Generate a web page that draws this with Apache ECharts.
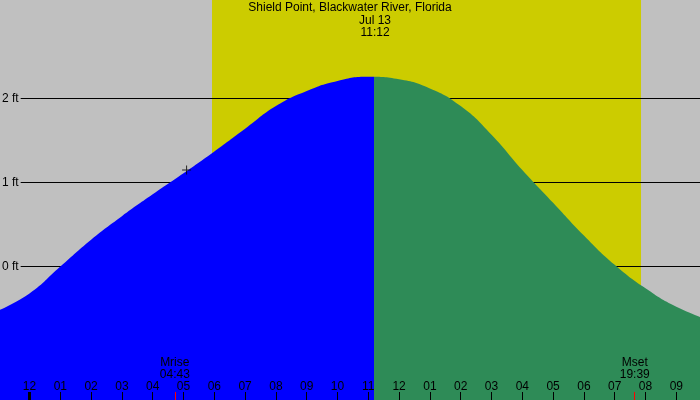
<!DOCTYPE html>
<html>
<head>
<meta charset="utf-8">
<script src="https://cdn.jsdelivr.net/npm/echarts@6/dist/echarts.min.js"></script>
<style>
  html, body { margin: 0; padding: 0; background: #c0c0c0; }
  #tide { width: 700px; height: 400px; }
</style>
</head>
<body>
<div id="tide"></div>
<script>
// 潮汐数据 (小时, 英尺)
var stationName = 'Shield Point, Blackwater River, Florida';
var dateText = 'Jul 13';
var timeText = '11:12';
var nowHour = 11.2;

var hours = [-1, 0, 1, 2, 3, 4, 5, 6, 7, 8, 9, 10, 11, 12, 13, 14, 15, 16, 17, 18, 19, 20, 21, 22];
var heights = [-0.52, -0.32, 0.00, 0.32, 0.60, 0.86, 1.11, 1.37, 1.64, 1.91, 2.09, 2.21, 2.26, 2.23,
               2.12, 1.91, 1.57, 1.15, 0.76, 0.37, 0.02, -0.26, -0.48, -0.63];

var hourTicks = [-1, 0, 1, 2, 3, 4, 5, 6, 7, 8, 9, 10, 11, 12, 13, 14, 15, 16, 17, 18, 19, 20, 21];
var tickLabels = ['11', '12', '01', '02', '03', '04', '05', '06', '07', '08', '09', '10',
                  '11', '12', '01', '02', '03', '04', '05', '06', '07', '08', '09'];
var ftTicks = [0, 1, 2];
var midnight = [0];

var sunRise = 5.925, sunSet = 19.854;
var moonHours = [4.717, 19.65];
var moonLabels = ['Mrise\n04:43', 'Mset\n19:39'];
var plusMark = [[5.1, 1.15]];

var xMin = -0.958, xMax = 21.769;
var yMin = -1.589, yMax = 3.173;

var font = 'Liberation Sans';
var myChart = echarts.init(document.getElementById('tide'));

var baseX = {
    type: 'value',
    position: 'bottom',
    offset: 0,
    min: xMin,
    max: xMax,
    z: 5,
    axisLine: { show: false, onZero: false },
    splitLine: { show: false }
};

option = {
    backgroundColor: '#c0c0c0',
    animation: false,
    title: {
        text: stationName,
        left: 'center',
        top: 2,
        padding: 0,
        textStyle: { fontFamily: font, fontSize: 12, fontWeight: 'normal', color: '#000', lineHeight: 12 }
    },
    graphic: [{
        type: 'text',
        x: 375,
        y: 15,
        z: 10,
        style: {
            text: dateText + '\n' + timeText,
            textAlign: 'center',
            fontFamily: font, fontSize: 12, lineHeight: 12, fill: '#000'
        }
    }],
    grid: { left: 0, right: 0, top: 0, bottom: 0, containLabel: false, outerBoundsMode: 'none' },
    visualMap: {
        show: false,
        type: 'piecewise',
        seriesIndex: 1,
        dimension: 0,
        pieces: [
            { gte: -5, lt: nowHour, color: '#0000ff' },
            { gte: nowHour, lte: 30, color: '#2e8b57' }
        ]
    },
    xAxis: [
        echarts.util.merge({
            axisTick: { customValues: hourTicks, inside: true, length: 8, lineStyle: { color: '#000', width: 1 } },
            axisLabel: {
                customValues: hourTicks, inside: true, margin: 7,
                fontFamily: font, fontSize: 12, color: '#000',
                formatter: function (v) {
                    var i = hourTicks.indexOf(Math.round(v));
                    return i < 0 ? '' : tickLabels[i];
                }
            }
        }, baseX, true),
        echarts.util.merge({
            axisTick: { customValues: midnight, inside: true, length: 8, lineStyle: { color: '#000', width: 3 } },
            axisLabel: { show: false }
        }, baseX, true),
        echarts.util.merge({
            axisTick: { customValues: moonHours, inside: true, length: 8, lineStyle: { color: '#ff0000', width: 1 } },
            axisLabel: {
                customValues: moonHours, inside: true, margin: 19,
                fontFamily: font, fontSize: 12, lineHeight: 12, color: '#000',
                formatter: function (v) {
                    var i = moonHours.indexOf(v);
                    return i < 0 ? '' : moonLabels[i];
                }
            }
        }, baseX, true)
    ],
    yAxis: {
        type: 'value',
        min: yMin,
        max: yMax,
        z: 2,
        axisLine: { show: false },
        axisTick: { show: false, customValues: ftTicks },
        axisLabel: {
            customValues: ftTicks,
            inside: true,
            margin: 0,
            fontFamily: font, fontSize: 12, color: '#000',
            backgroundColor: '#c0c0c0',
            padding: [0, 2, 0, 2],
            formatter: function (v) { return v + ' ft'; }
        },
        splitLine: { show: true, lineStyle: { color: '#000', width: 1 } }
    },
    series: [
        {
            // 白天(黄色)
            type: 'line',
            z: 1,
            data: [],
            markArea: {
                silent: true,
                z: 1,
                itemStyle: { color: '#cccc00', opacity: 1 },
                data: [[{ xAxis: sunRise, yAxis: yMin }, { xAxis: sunSet, yAxis: yMax }]]
            }
        },
        {
            name: 'tide',
            type: 'line',
            z: 3,
            smooth: 0.5,
            symbol: 'none',
            lineStyle: { width: 0 },
            areaStyle: { opacity: 1, origin: 'start' },
            data: hours.map(function (h, i) { return [h, heights[i]]; })
        },
        {
            type: 'scatter',
            z: 4,
            symbol: 'path://M4,0h1v4h4v1h-4v4h-1v-4h-4v-1h4z',
            symbolSize: 9,
            itemStyle: { color: '#000' },
            data: plusMark
        }
    ]
};
myChart.setOption(option);
</script>
</body>
</html>
